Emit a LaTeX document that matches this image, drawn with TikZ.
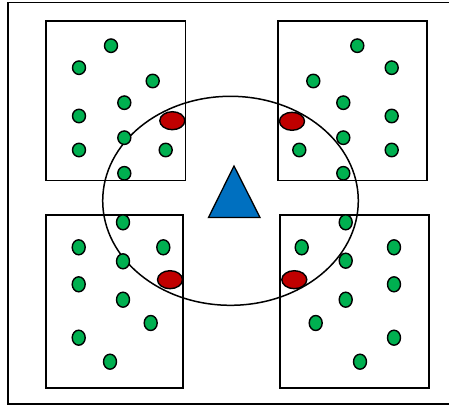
\documentclass[tikz,border=0pt]{standalone}
\usetikzlibrary{shapes.geometric}
\definecolor{nodegreen}{RGB}{0,176,80}
\definecolor{headred}{RGB}{192,0,0}
\definecolor{sinkblue}{RGB}{0,112,192}
\begin{document}
\begin{tikzpicture}[x=1pt,y=-1pt,
  sensor/.style={ellipse,draw,fill=nodegreen,line width=1.4pt,inner sep=0pt,minimum width=13pt,minimum height=13.5pt},
  tallsensor/.style={sensor,minimum height=15pt},
  head/.style={ellipse,draw,fill=headred,line width=1.4pt,inner sep=0pt,minimum width=25pt,minimum height=18pt},
  cluster/.style={draw,line width=1.6pt}]
\clip (0,0) rectangle (449,406);
\draw[line width=1.8pt] (8,2.5) rectangle (470,404.3);
% clusters
\draw[cluster] (46,21.3) rectangle (185.3,180.3);
\draw[cluster] (278,21.3) rectangle (426.7,180.3);
\draw[cluster] (46,215) rectangle (183,388);
\draw[cluster] (280,215) rectangle (429,388);
% range of the sink
\draw[line width=1.5pt] (230.5,200.8) ellipse [x radius=127.8pt, y radius=104.5pt];
\filldraw[fill=sinkblue,line width=1.3pt] (234,166) -- (260,217.5) -- (208.5,217.5) -- cycle;
% top left
\node[sensor] (tl1) at (111,45.7) {};
\node[sensor] (tl2) at (79,67.7) {};
\node[sensor] (tl3) at (152.7,81) {};
\node[sensor] (tl4) at (124.3,102.7) {};
\node[sensor] (tl5) at (79,116) {};
\node[sensor] (tl6) at (124.3,137.7) {};
\node[sensor] (tl7) at (79,150) {};
\node[sensor] (tl8) at (165.7,150) {};
\node[sensor] (tl9) at (124.3,173.3) {};
\node[head] (tlhead) at (172.3,120.7) {};
% top right
\node[sensor] (tr1) at (357.3,45.7) {};
\node[sensor] (tr2) at (391.7,67.7) {};
\node[sensor] (tr3) at (313.3,81) {};
\node[sensor] (tr4) at (343.3,102.7) {};
\node[sensor] (tr5) at (391.7,116) {};
\node[sensor] (tr6) at (343.3,137.7) {};
\node[sensor] (tr7) at (299.3,150) {};
\node[sensor] (tr8) at (391.7,150) {};
\node[sensor] (tr9) at (343.3,173.3) {};
\node[head] (trhead) at (292,121.3) {};
% bottom left
\node[tallsensor] (bl1) at (123,222.3) {};
\node[tallsensor] (bl2) at (78.7,247.3) {};
\node[tallsensor] (bl3) at (163.3,247.3) {};
\node[tallsensor] (bl4) at (123,261.3) {};
\node[tallsensor] (bl5) at (78.7,284.3) {};
\node[tallsensor] (bl6) at (123,299.7) {};
\node[tallsensor] (bl7) at (150.7,323) {};
\node[tallsensor] (bl8) at (78.7,337.7) {};
\node[tallsensor] (bl9) at (110,361.7) {};
\node[head] (blhead) at (170,279.7) {};
% bottom right
\node[tallsensor] (br1) at (345.7,222.3) {};
\node[tallsensor] (br2) at (301.7,247.3) {};
\node[tallsensor] (br3) at (394,247.3) {};
\node[tallsensor] (br4) at (345.7,260.7) {};
\node[tallsensor] (br5) at (394,284.3) {};
\node[tallsensor] (br6) at (345.7,299.7) {};
\node[tallsensor] (br7) at (315.7,323) {};
\node[tallsensor] (br8) at (394,337.7) {};
\node[tallsensor] (br9) at (360,361.7) {};
\node[head] (brhead) at (294.3,279.7) {};
\end{tikzpicture}
\end{document}
